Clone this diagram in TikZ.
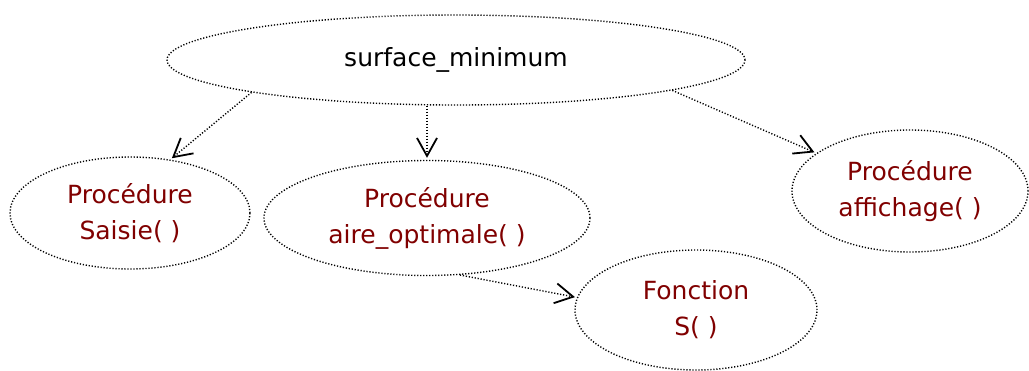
\documentclass[tikz,border=0pt]{standalone}
\usepackage{fontspec}
\setmainfont{DejaVu Sans}
\usetikzlibrary{shapes.geometric,arrows.meta}
\definecolor{procred}{RGB}{128,0,0}
\begin{document}
\begin{tikzpicture}[x=0.5pt, y=-0.5pt,
        every node/.style = {shape=ellipse, draw, align=center, inner sep=0pt,
                             dash pattern=on 0.6pt off 0.9pt, line width=0.7pt,
                             font=\fontsize{12.5}{18}\selectfont, text=procred},
        call/.style = {dash pattern=on 0.6pt off 0.9pt, line width=0.7pt, shorten >=1pt,
                       -{Straight Barb[length=9pt,width=10pt,line width=0.9pt]}}]
    \useasboundingbox (0,0) rectangle (1029,370);
    \node[minimum width=289pt, minimum height=45pt, text=black] (main) at (456,60) {surface\_minimum};
    \node[minimum width=120pt, minimum height=56pt] (saisie) at (130,213) {Procédure\\Saisie( )};
    \node[minimum width=163pt, minimum height=57.5pt] (aire) at (427,218) {Procédure\\aire\_optimale( )};
    \node[minimum width=118pt, minimum height=61pt] (affichage) at (910,191) {Procédure\\affichage( )};
    \node[minimum width=121pt, minimum height=60pt] (fonction) at (696,310) {Fonction\\S( )};
    \draw[call] (main.189) -- (saisie.53);
    \draw[call] (aire.north |- main.south) -- (aire.north);
    \draw[call] (main.352) -- (affichage.158);
    \draw[call] (aire.300) -- (fonction.174);
\end{tikzpicture}
\end{document}
